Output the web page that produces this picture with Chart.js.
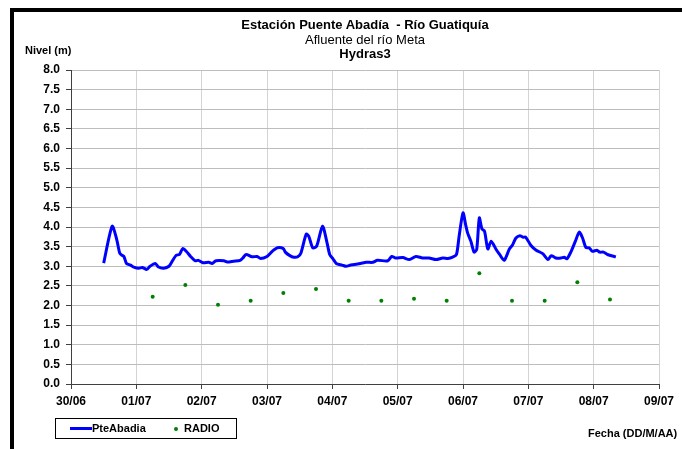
<!DOCTYPE html>
<html>
<head>
<meta charset="utf-8">
<script src="https://cdn.jsdelivr.net/npm/chart.js"></script>
<style>
    body { margin: 0; background: #fff; font-family: "Liberation Sans", Arial, sans-serif; }
    #wrap { position: relative; width: 682px; height: 449px; overflow: hidden; }
    #frame { position: absolute; left: 10px; top: 8px; width: 700px; height: 460px; border-left: 4px solid #000; border-top: 4px solid #000; }
    #chart { position: absolute; left: 0; top: 0; }
    .txt { position: absolute; color: #000; white-space: nowrap; }
    #titles { left: 0; top: 18px; width: 730px; text-align: center; font-size: 13px; line-height: 14.5px; }
    #legend { position: absolute; left: 55px; top: 418px; width: 180px; height: 19px; border: 1px solid #000; font-size: 11px; font-weight: bold; }
</style>
</head>
<body>
<div id="wrap">
    <div id="frame"></div>
    <canvas id="chart" width="682" height="449"></canvas>
    <div class="txt" id="titles">
        <div style="font-weight:bold">Estación Puente Abadía&nbsp; - Río Guatiquía</div>
        <div>Afluente del río Meta</div>
        <div style="font-weight:bold">Hydras3</div>
    </div>
    <div class="txt" style="left:25px; top:44px; font-size:11px; font-weight:bold;">Nivel (m)</div>
    <div class="txt" style="left:588px; top:427px; font-size:11px; font-weight:bold;">Fecha (DD/M/AA)</div>
    <div id="legend">
        <div style="position:absolute; left:14px; top:8px; width:22px; height:3px; background:#0000ff;"></div>
        <div class="txt" style="left:36px; top:3px;">PteAbadia</div>
        <div style="position:absolute; left:118px; top:8px; width:4px; height:4px; border-radius:2px; background:#008000;"></div>
        <div class="txt" style="left:128px; top:3px;">RADIO</div>
    </div>
</div>
<script>
// etiquetas del eje X (días)
const dateLabels = ['30/06', '01/07', '02/07', '03/07', '04/07', '05/07', '06/07', '07/07', '08/07', '09/07'];

// nivel PteAbadia: tiempo en días desde 30/06 y nivel en m
const levelDays = [
    0.50, 0.63, 0.70, 0.745, 0.78, 0.81, 0.85, 0.91, 0.96, 1.04, 1.09, 1.16, 1.21, 1.29, 1.34, 1.42,
    1.50, 1.55, 1.61, 1.66, 1.71, 1.77, 1.83, 1.90, 1.95, 2.02, 2.11, 2.16, 2.22, 2.34, 2.39, 2.49,
    2.59, 2.63, 2.68, 2.77, 2.85, 2.90, 3.00, 3.08, 3.16, 3.25, 3.28, 3.35, 3.41, 3.47, 3.52, 3.60,
    3.64, 3.70, 3.76, 3.85, 3.92, 3.96, 4.01, 4.06, 4.15, 4.21, 4.28, 4.43, 4.52, 4.62, 4.69, 4.85,
    4.91, 4.97, 5.08, 5.18, 5.28, 5.38, 5.48, 5.59, 5.69, 5.77, 5.84, 5.90, 5.94, 6.00, 6.04, 6.07,
    6.12, 6.17, 6.21, 6.25, 6.29, 6.33, 6.38, 6.43, 6.51, 6.56, 6.63, 6.71, 6.76, 6.81, 6.87, 6.92,
    6.96, 7.04, 7.12, 7.22, 7.30, 7.35, 7.42, 7.50, 7.55, 7.59, 7.65, 7.72, 7.78, 7.83, 7.88, 7.93,
    7.98, 8.05, 8.09, 8.15, 8.21, 8.34
];
const levelValues = [
    3.08, 4.02, 3.68, 3.34, 3.28, 3.25, 3.07, 3.03, 2.98, 2.95, 2.97, 2.92, 3.00, 3.07, 2.98, 2.95,
    3.00, 3.13, 3.28, 3.30, 3.45, 3.37, 3.25, 3.14, 3.15, 3.09, 3.10, 3.07, 3.14, 3.14, 3.11, 3.13,
    3.15, 3.21, 3.30, 3.24, 3.25, 3.20, 3.25, 3.38, 3.47, 3.45, 3.36, 3.27, 3.23, 3.24, 3.34, 3.82,
    3.76, 3.47, 3.51, 4.02, 3.59, 3.30, 3.19, 3.07, 3.03, 3.00, 3.03, 3.07, 3.10, 3.10, 3.15, 3.14,
    3.25, 3.21, 3.22, 3.17, 3.25, 3.21, 3.21, 3.17, 3.21, 3.20, 3.23, 3.30, 3.76, 4.36, 4.06, 3.85,
    3.64, 3.36, 3.43, 4.23, 3.95, 3.89, 3.44, 3.64, 3.42, 3.30, 3.15, 3.44, 3.55, 3.72, 3.78, 3.74,
    3.74, 3.53, 3.41, 3.32, 3.17, 3.27, 3.21, 3.21, 3.23, 3.19, 3.36, 3.64, 3.87, 3.72, 3.48, 3.47,
    3.38, 3.41, 3.36, 3.36, 3.30, 3.24
];

// lecturas RADIO
const radioDays = [1.25, 1.75, 2.25, 2.75, 3.25, 3.75, 4.25, 4.75, 5.25, 5.75, 6.25, 6.75, 7.25, 7.75, 8.25];
const radioValues = [2.22, 2.52, 2.02, 2.12, 2.32, 2.42, 2.12, 2.12, 2.17, 2.12, 2.82, 2.12, 2.12, 2.59, 2.15];

const toPoints = (xs, ys) => xs.map((x, i) => ({ x, y: ys[i] }));

const tickFont = { family: '"Liberation Sans", Arial, sans-serif', size: 12, weight: 'bold' };

new Chart(document.getElementById('chart').getContext('2d'), {
    type: 'scatter',
    data: {
        datasets: [
            {
                label: 'PteAbadia',
                data: toPoints(levelDays, levelValues),
                showLine: true,
                borderColor: '#0000ff',
                borderWidth: 3,
                pointRadius: 0,
                tension: 0.25
            },
            {
                label: 'RADIO',
                data: toPoints(radioDays, radioValues),
                showLine: false,
                pointRadius: 2,
                pointBackgroundColor: '#008000',
                pointBorderWidth: 0
            }
        ]
    },
    options: {
        responsive: false,
        animation: false,
        layout: { padding: { left: 0, top: 70, right: 23, bottom: 0 } },
        plugins: {
            legend: { display: false },
            tooltip: { enabled: false }
        },
        scales: {
            x: {
                type: 'linear',
                min: 0,
                max: 9,
                afterFit: s => { s.height = 65; },
                ticks: {
                    stepSize: 1,
                    padding: 5,
                    color: '#000',
                    font: tickFont,
                    maxRotation: 0,
                    callback: v => dateLabels[v]
                },
                grid: { color: '#d4d4d4', tickColor: '#404040', tickLength: 5 },
                border: { color: '#404040' }
            },
            y: {
                min: 0,
                max: 8,
                afterFit: s => { s.width = 71; },
                ticks: {
                    stepSize: 0.5,
                    padding: 6,
                    color: '#000',
                    font: tickFont,
                    callback: v => v.toFixed(1)
                },
                grid: { color: '#bdbdbd', tickColor: '#404040', tickLength: 5 },
                border: { color: '#404040' }
            }
        }
    }
});
</script>
</body>
</html>
